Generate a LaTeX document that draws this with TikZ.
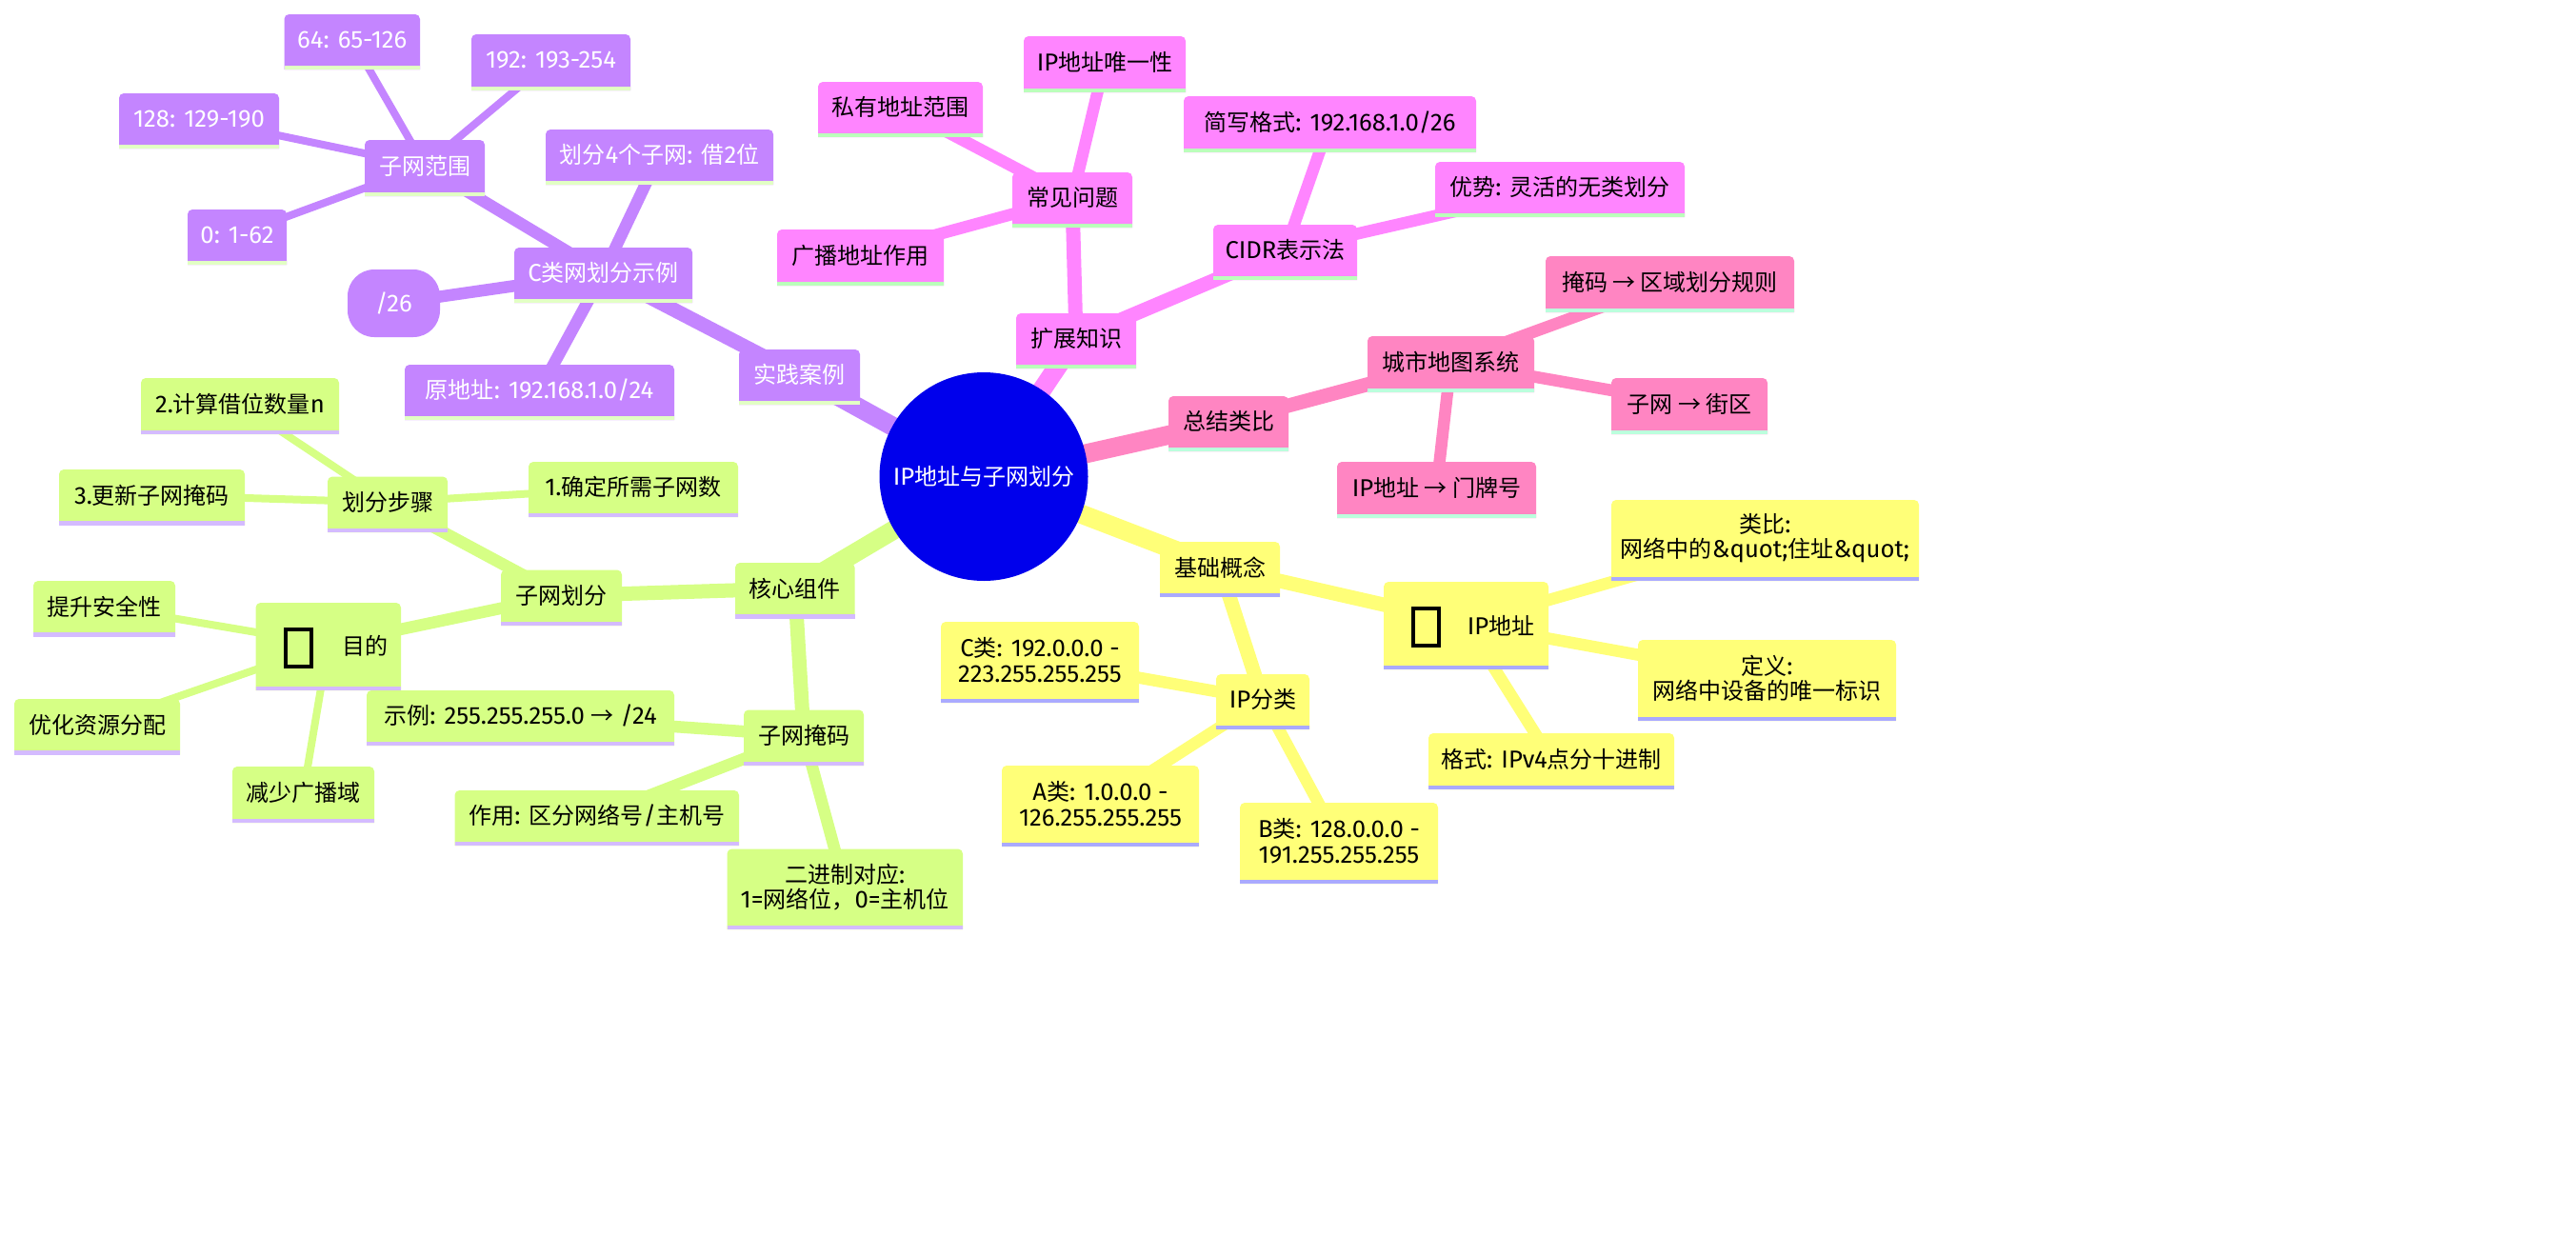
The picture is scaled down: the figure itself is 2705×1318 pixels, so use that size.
\documentclass[tikz,border=0pt]{standalone}
\usepackage{fontspec}
\setmainfont[Scale=1.07]{Fira Sans}
\newfontfamily\cjk[Scale=1.0]{Noto Sans CJK SC}
\newcommand{\C}[1]{{\cjk #1}}
\usetikzlibrary{backgrounds}
\definecolor{blueroot}{HTML}{0000EC}
\definecolor{yel}{HTML}{FFFF78}\definecolor{yelbar}{HTML}{AAAAFF}
\definecolor{lim}{HTML}{D6FF85}\definecolor{limbar}{HTML}{D4BBFF}
\definecolor{pur}{HTML}{C485FF}\definecolor{purbar}{HTML}{E2FFC4}
\definecolor{mag}{HTML}{FF85FF}\definecolor{magbar}{HTML}{BBFFBB}
\definecolor{pnk}{HTML}{FF85C2}\definecolor{pnkbar}{HTML}{BBFFDD}
\tikzset{
 boxtext/.style={rectangle,inner sep=0pt,align=center,font=\fontsize{24}{26.5}\selectfont},
 txtyel/.style={text=black},txtlim/.style={text=black},txtmag/.style={text=black},txtpnk/.style={text=black},txtpur/.style={text=white},
 lv0/.style={line width=20pt},lv1/.style={line width=15pt},lv2/.style={line width=12.5pt},lv3/.style={line width=8pt},
 tofu/.style={rectangle,draw=black,line width=4pt,inner sep=0pt,minimum width=27pt,minimum height=39pt}
}
% name, x0, x1, y0, y1, family, text
\newcommand{\bx}[7]{%
 \fill[#6] (#2,#5) [rounded corners=5pt] -- (#2,#4) -- (#3,#4) [sharp corners] -- (#3,#5) -- cycle;
 \fill[#6bar] (#2,#5-4.5) rectangle (#3,#5);
 \pgfmathsetmacro{\mw}{#3-#2}\pgfmathsetmacro{\mh}{#5-#4-4.5}
 \pgfmathsetmacro{\cx}{(#2+#3)/2}\pgfmathsetmacro{\cy}{(#4+#5-4.5)/2}
 \node[boxtext,txt#6,minimum width=\mw pt,minimum height=\mh pt] (#1) at (\cx,\cy) {#7};
}
\begin{document}
\begin{tikzpicture}[x=1pt,y=-1pt]
\useasboundingbox (0,0) rectangle (2705,1318);
\node[circle,fill=blueroot,text=white,inner sep=0pt,minimum size=219pt,font=\fontsize{24}{26.5}\selectfont] (root) at (1033,500.5) {IP\C{地址与子网划分}};
% yellow
\bx{jc}{1218}{1344}{569}{627}{yel}{\C{基础概念}}
\bx{ipaddr}{1453}{1626}{611}{703}{yel}{}
\node[tofu] (ipicon) at (1497.5,658) {};
\node[boxtext,text=black] (iplabel) at (1576,657) {IP\C{地址}};
\bx{lb}{1692}{2015}{525}{610}{yel}{\C{类比}:\\\C{网络中的}\&quot;\C{住址}\&quot;}
\bx{dy}{1720}{1991}{672}{757}{yel}{\C{定义}:\\\C{网络中设备的唯一标识}}
\bx{gs}{1500}{1758}{770}{829}{yel}{\C{格式}: IPv4\C{点分十进制}}
\bx{ipfl}{1277}{1375}{708}{766}{yel}{IP\C{分类}}
\bx{cl}{988}{1196}{653}{738}{yel}{C\C{类}: 192.0.0.0 -\\223.255.255.255}
\bx{al}{1052}{1259}{804}{889}{yel}{A\C{类}: 1.0.0.0 -\\126.255.255.255}
\bx{bl}{1302}{1510}{843}{928}{yel}{B\C{类}: 128.0.0.0 -\\191.255.255.255}
% lime
\bx{hx}{772}{897.5}{591}{649.5}{lim}{\C{核心组件}}
\bx{zwhf}{526}{653}{598.5}{657}{lim}{\C{子网划分}}
\bx{hfbz}{344}{470}{500.5}{559}{lim}{\C{划分步骤}}
\bx{bzo}{555}{775}{485}{543}{lim}{1.\C{确定所需子网数}}
\bx{bzt}{148}{356}{397}{456}{lim}{2.\C{计算借位数量}n}
\bx{bzs}{62}{257}{493}{551.5}{lim}{3.\C{更新子网掩码}}
\bx{md}{268.5}{421}{633}{725}{lim}{}
\node[tofu] (mdicon) at (313.5,680) {};
\node[boxtext,text=black] (mdlabel) at (383,678) {\C{目的}};
\bx{aq}{35}{184}{610}{668.5}{lim}{\C{提升安全性}}
\bx{yh}{15}{189}{734}{792.5}{lim}{\C{优化资源分配}}
\bx{js}{244}{393}{805}{864}{lim}{\C{减少广播域}}
\bx{zwym}{781}{907}{745.5}{804}{lim}{\C{子网掩码}}
\bx{sl}{385}{708}{725}{783}{lim}{\C{示例}: 255.255.255.0 \C{→} /24}
\bx{zy}{477.5}{776}{830}{888}{lim}{\C{作用}: \C{区分网络号}/\C{主机号}}
\bx{ejz}{763.5}{1011}{891.5}{976}{lim}{\C{二进制对应}:\\1=\C{网络位，}0=\C{主机位}}
% purple
\bx{sj}{776}{903}{367}{425}{pur}{\C{实践案例}}
\bx{clhf}{540}{727}{260}{318}{pur}{C\C{类网划分示例}}
\node[rectangle,rounded corners=28pt,fill=pur,text=white,inner sep=0pt,minimum width=97pt,minimum height=71pt,font=\fontsize{24}{26.5}\selectfont] (sub26) at (413.5,318.5) {/26};
\bx{yd}{425}{708}{383}{441}{pur}{\C{原地址}: 192.168.1.0/24}
\bx{hf}{573}{812}{136}{194}{pur}{\C{划分}4\C{个子网}: \C{借}2\C{位}}
\bx{zwfw}{383}{509}{147}{206}{pur}{\C{子网范围}}
\bx{rza}{298.5}{441}{15}{73}{pur}{64: 65-126}
\bx{rzb}{495}{662}{36}{95}{pur}{192: 193-254}
\bx{rzc}{125}{293}{98}{156}{pur}{128: 129-190}
\bx{rzd}{197}{301}{220}{278}{pur}{0: 1-62}
% magenta
\bx{kz}{1067}{1193}{329}{387}{mag}{\C{扩展知识}}
\bx{cj}{1063}{1189}{181}{239}{mag}{\C{常见问题}}
\bx{wy}{1075}{1245}{38}{97}{mag}{IP\C{地址唯一性}}
\bx{sy}{859}{1032}{86}{144}{mag}{\C{私有地址范围}}
\bx{gb}{816}{991}{241}{300}{mag}{\C{广播地址作用}}
\bx{cidr}{1274}{1425}{236}{294}{mag}{CIDR\C{表示法}}
\bx{jx}{1243}{1550}{101}{160}{mag}{\C{简写格式}: 192.168.1.0/26}
\bx{ys}{1507}{1769}{170}{228}{mag}{\C{优势}: \C{灵活的无类划分}}
% pink
\bx{zj}{1227}{1353}{416}{474}{pnk}{\C{总结类比}}
\bx{cs}{1436}{1611}{353}{412}{pnk}{\C{城市地图系统}}
\bx{ym}{1623}{1884}{269}{328}{pnk}{\C{掩码 → 区域划分规则}}
\bx{jq}{1692}{1856}{397}{456}{pnk}{\C{子网 → 街区}}
\bx{mp}{1404}{1613}{485}{544}{pnk}{IP\C{地址 → 门牌号}}
\begin{pgfonlayer}{background}
\fill[white] (0,0) rectangle (2705,1318);
\foreach \a/\b/\l/\c in {root/jc/lv0/yel,root/hx/lv0/lim,root/sj/lv0/pur,root/kz/lv0/mag,root/zj/lv0/pnk,
 jc/ipaddr/lv1/yel,jc/ipfl/lv1/yel,ipaddr/lb/lv2/yel,ipaddr/dy/lv2/yel,ipaddr/gs/lv2/yel,ipfl/cl/lv2/yel,ipfl/al/lv2/yel,ipfl/bl/lv2/yel,
 hx/zwhf/lv1/lim,hx/zwym/lv1/lim,zwhf/hfbz/lv2/lim,zwhf/md/lv2/lim,hfbz/bzo/lv3/lim,hfbz/bzt/lv3/lim,hfbz/bzs/lv3/lim,md/aq/lv3/lim,md/yh/lv3/lim,md/js/lv3/lim,zwym/sl/lv2/lim,zwym/zy/lv2/lim,zwym/ejz/lv2/lim,
 sj/clhf/lv1/pur,clhf/sub26/lv2/pur,clhf/yd/lv2/pur,clhf/hf/lv2/pur,clhf/zwfw/lv2/pur,zwfw/rza/lv3/pur,zwfw/rzb/lv3/pur,zwfw/rzc/lv3/pur,zwfw/rzd/lv3/pur,
 kz/cj/lv1/mag,kz/cidr/lv1/mag,cj/wy/lv2/mag,cj/sy/lv2/mag,cj/gb/lv2/mag,cidr/jx/lv2/mag,cidr/ys/lv2/mag,
 zj/cs/lv1/pnk,cs/ym/lv2/pnk,cs/jq/lv2/pnk,cs/mp/lv2/pnk}
 { \draw[\l,draw=\c] (\a.center) -- (\b.center); }
\end{pgfonlayer}
\end{tikzpicture}
\end{document}
